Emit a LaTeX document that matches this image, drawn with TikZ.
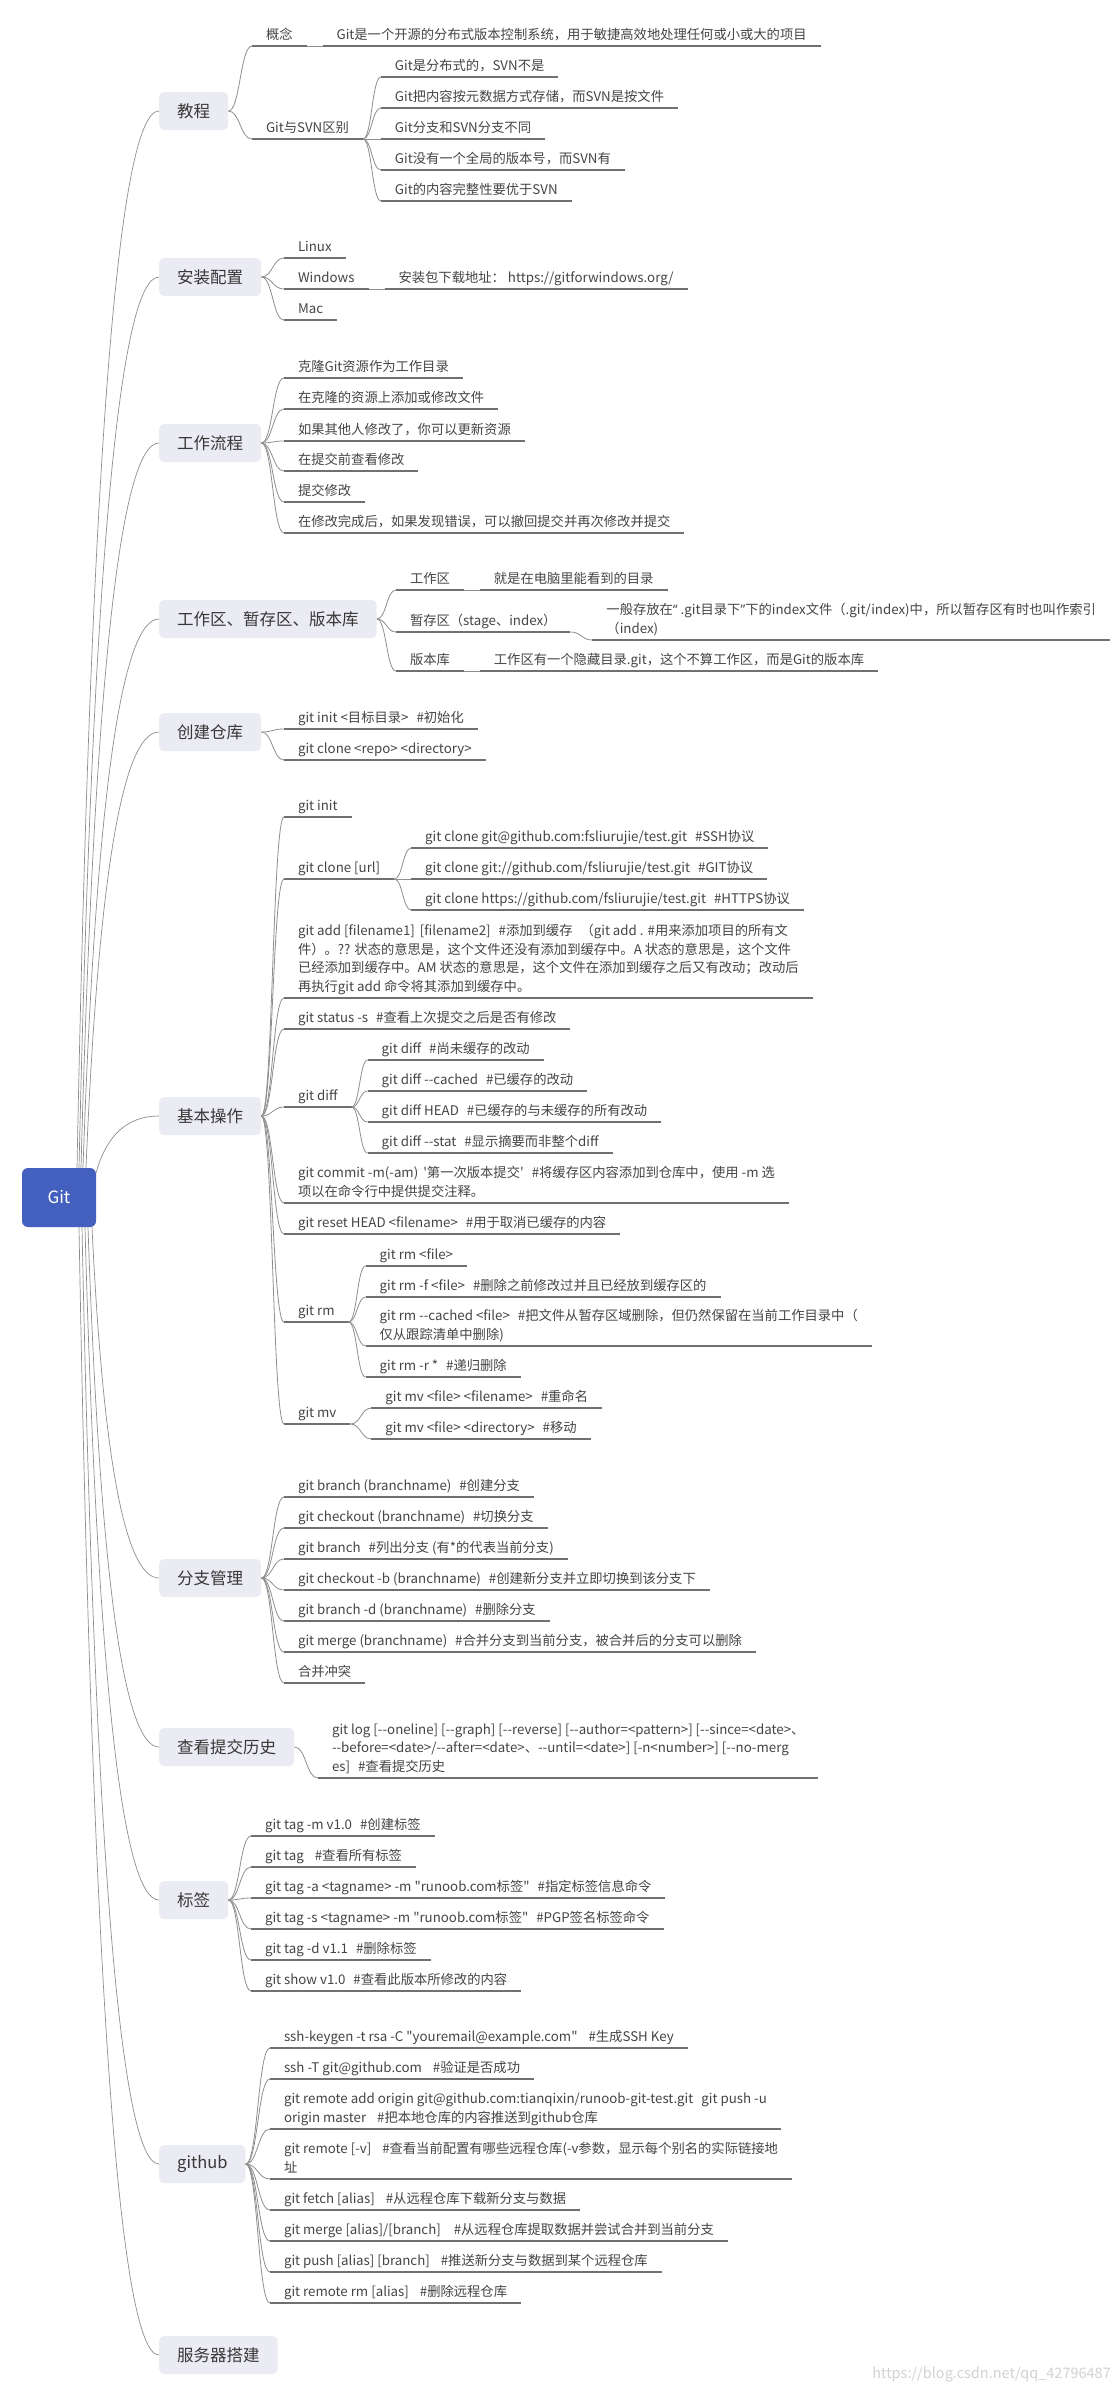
\documentclass[tikz,border=0pt]{standalone}
\usepackage{fontspec}
\newfontfamily\mf{Noto Sans CJK SC}
\newfontfamily\lat{Noto Sans}
\usetikzlibrary{calc}
\definecolor{txt}{HTML}{454545}
\definecolor{uln}{HTML}{707070}
\definecolor{cln}{HTML}{8E8E8E}
\definecolor{bfill}{HTML}{EBEBF3}
\definecolor{rootblue}{HTML}{4460BE}
\definecolor{wmark}{HTML}{D2D2D2}
\newcommand\gp{\hspace{8pt}}
\newcommand\mmlink[2]{\path ($(#1)!0.5!(#2)$) coordinate (lkm); \draw[conn] (#1) .. controls (lkm |- #1) and (lkm |- #2) .. (#2);}
\newcommand\mmroot[2]{\path ($(#1)!0.25!(#2)$) coordinate (rq); \path (rq |- #2) coordinate (rc); \draw[rconn] (#1) .. controls ($(#1)!0.6667!(rc)$) and ($(#2)!0.6667!(rc)$) .. (#2);}
\tikzset{
 uline/.style={draw=uln, line width=1.1pt},
 conn/.style={draw=cln, line width=0.8pt},
 rconn/.style={draw=cln, line width=0.7pt},
 item/.style={anchor=south west, inner xsep=14pt, inner ysep=4pt, outer sep=0pt, text depth=3pt, align=left,
   font=\mf\fontsize{13.3pt}{18.5pt}\selectfont, text=txt,
   append after command={(\tikzlastnode.south west) edge[uline] (\tikzlastnode.south east)}},
 branch/.style={anchor=west, fill=bfill, rounded corners=5pt, inner xsep=18pt, minimum height=38pt,
   font=\mf\fontsize{16.5pt}{20pt}\selectfont, text=txt!80!black},
 rootbox/.style={fill=rootblue, rounded corners=6pt, minimum width=74pt, minimum height=59pt, text=white,
   font=\mf\fontsize{17pt}{21pt}\selectfont}
}
\begin{document}
\begin{tikzpicture}[x=1pt,y=-1pt]
\useasboundingbox (0,0) rectangle (1114,2394);
\fill[white] (0,0) rectangle (1114,2394);

% root
\node[rootbox] (git) at (59,1197.5) {Git};
\coordinate (r1) at (77,1168);
\coordinate (r2) at (79,1168);
\coordinate (r3) at (81,1168);
\coordinate (r4) at (83,1168);
\coordinate (r5) at (86,1168);
\coordinate (r6) at (96,1173);
\coordinate (r7) at (92,1227);
\coordinate (r8) at (88,1227);
\coordinate (r9) at (85,1227);
\coordinate (r10) at (82,1227);
\coordinate (r11) at (79,1227);

% branches
\node[branch] (b1) at (159,111) {教程};
\node[branch] (b2) at (159,277) {安装配置};
\node[branch] (b3) at (159,443) {工作流程};
\node[branch] (b4) at (159,619) {工作区、暂存区、版本库};
\node[branch] (b5) at (159,732) {创建仓库};
\node[branch] (b6) at (159,1116) {基本操作};
\node[branch] (b7) at (159,1578) {分支管理};
\node[branch] (b8) at (159,1747) {查看提交历史};
\node[branch] (b9) at (159,1900) {标签};
\node[branch] (b10) at (159,2164) {github};
\node[branch] (b11) at (159,2355) {服务器搭建};

\mmroot{r1}{b1.west}
\mmroot{r2}{b2.west}
\mmroot{r3}{b3.west}
\mmroot{r4}{b4.west}
\mmroot{r5}{b5.west}
\mmroot{r6}{b6.west}
\mmroot{r7}{b7.west}
\mmroot{r8}{b8.west}
\mmroot{r9}{b9.west}
\mmroot{r10}{b10.west}
\mmroot{r11}{b11.west}

% 教程
\node[item] (a1) at (252,46) {概念};
\node[item,xshift=16pt] (a1c) at (a1.south east) {Git是一个开源的分布式版本控制系统，用于敏捷高效地处理任何或小或大的项目};
\node[item] (a2) at (252,139) {Git与SVN区别};
\node[item,xshift=18pt] (a21) at (a2.south east |- 0,77) {Git是分布式的，SVN不是};
\node[item,xshift=18pt] (a22) at (a2.south east |- 0,108) {Git把内容按元数据方式存储，而SVN是按文件};
\node[item,xshift=18pt] (a23) at (a2.south east |- 0,139) {Git分支和SVN分支不同};
\node[item,xshift=18pt] (a24) at (a2.south east |- 0,170) {Git没有一个全局的版本号，而SVN有};
\node[item,xshift=18pt] (a25) at (a2.south east |- 0,201) {Git的内容完整性要优于SVN};
\mmlink{b1.east}{a1.south west}
\mmlink{b1.east}{a2.south west}
\mmlink{a1.south east}{a1c.south west}
\foreach \n in {a21,a22,a23,a24,a25} {\mmlink{a2.south east}{\n.south west}}

% 安装配置
\node[item] (d1) at (284,258) {Linux};
\node[item] (d2) at (284,289) {Windows};
\node[item,xshift=16pt] (d2c) at (d2.south east) {安装包下载地址： https://gitforwindows.org/};
\node[item] (d3) at (284,320) {Mac};
\foreach \n in {d1,d2,d3} {\mmlink{b2.east}{\n.south west}}
\mmlink{d2.south east}{d2c.south west}

% 工作流程
\node[item] (e1) at (284,378) {克隆Git资源作为工作目录};
\node[item] (e2) at (284,409) {在克隆的资源上添加或修改文件};
\node[item] (e3) at (284,441) {如果其他人修改了，你可以更新资源};
\node[item] (e4) at (284,471) {在提交前查看修改};
\node[item] (e5) at (284,502) {提交修改};
\node[item] (e6) at (284,533) {在修改完成后，如果发现错误，可以撤回提交并再次修改并提交};
\foreach \n in {e1,e2,e3,e4,e5,e6} {\mmlink{b3.east}{\n.south west}}

% 工作区、暂存区、版本库
\node[item] (f1) at (396,590) {工作区};
\node[item,xshift=16pt] (f1c) at (f1.south east) {就是在电脑里能看到的目录};
\node[item] (f2) at (396,632) {暂存区（stage、index）};
\node[item,xshift=22pt] (f2c) at (f2.south east |- 0,640) {一般存放在{\lat“} .git目录下{\lat ”}下的index文件（.git/index)中，所以暂存区有时也叫作索引\\（index)};
\node[item] (f3) at (396,671) {版本库};
\node[item,xshift=16pt] (f3c) at (f3.south east) {工作区有一个隐藏目录.git，这个不算工作区，而是Git的版本库};
\foreach \n in {f1,f2,f3} {\mmlink{b4.east}{\n.south west}}
\mmlink{f1.south east}{f1c.south west}
\mmlink{f2.south east}{f2c.south west}
\mmlink{f3.south east}{f3c.south west}

% 创建仓库
\node[item] (g1) at (284,729) {git init <目标目录>\gp\#初始化};
\node[item] (g2) at (284,760) {git clone <repo> <directory>};
\foreach \n in {g1,g2} {\mmlink{b5.east}{\n.south west}}

% 基本操作
\node[item] (h1) at (284,817) {git init};
\node[item] (h2) at (284,879) {git clone [url]};
\node[item,xshift=17pt] (h21) at (h2.south east |- 0,848) {git clone git@github.com:fsliurujie/test.git\gp\#SSH协议};
\node[item,xshift=17pt] (h22) at (h2.south east |- 0,879) {git clone git://github.com/fsliurujie/test.git\gp\#GIT协议};
\node[item,xshift=17pt] (h23) at (h2.south east |- 0,910) {git clone https://github.com/fsliurujie/test.git\gp\#HTTPS协议};
\node[item] (h3) at (284,998) {git add [filename1]\hspace{5pt}[filename2]\gp\#添加到缓存\gp（git add . \#用来添加项目的所有文\\件）。?? 状态的意思是，这个文件还没有添加到缓存中。A 状态的意思是，这个文件\\已经添加到缓存中。AM 状态的意思是，这个文件在添加到缓存之后又有改动；改动后\\再执行git add 命令将其添加到缓存中。};
\node[item] (h4) at (284,1029) {git status -s\gp\#查看上次提交之后是否有修改};
\node[item] (h5) at (284,1107) {git diff};
\node[item,xshift=16pt] (h51) at (h5.south east |- 0,1060) {git diff\gp\#尚未缓存的改动};
\node[item,xshift=16pt] (h52) at (h5.south east |- 0,1091) {git diff --cached\gp\#已缓存的改动};
\node[item,xshift=16pt] (h53) at (h5.south east |- 0,1122) {git diff HEAD\gp\#已缓存的与未缓存的所有改动};
\node[item,xshift=16pt] (h54) at (h5.south east |- 0,1153) {git diff --stat\gp\#显示摘要而非整个diff};
\node[item] (h6) at (284,1203) {git commit -m(-am)\hspace{5pt}'第一次版本提交'\gp\#将缓存区内容添加到仓库中，使用 -m 选\\项以在命令行中提供提交注释。};
\node[item] (h7) at (284,1234) {git reset HEAD <filename>\gp\#用于取消已缓存的内容};
\node[item] (h8) at (284,1322) {git rm};
\node[item,xshift=17pt] (h81) at (h8.south east |- 0,1266) {git rm <file>};
\node[item,xshift=17pt] (h82) at (h8.south east |- 0,1297) {git rm -f <file>\gp\#删除之前修改过并且已经放到缓存区的};
\node[item,xshift=17pt] (h83) at (h8.south east |- 0,1346) {git rm --cached <file>\gp\#把文件从暂存区域删除，但仍然保留在当前工作目录中（\\仅从跟踪清单中删除)};
\node[item,xshift=17pt] (h84) at (h8.south east |- 0,1377) {git rm -r *\gp\#递归删除};
\node[item] (h9) at (284,1424) {git mv};
\node[item,xshift=21pt] (h91) at (h9.south east |- 0,1408) {git mv <file> <filename>\gp\#重命名};
\node[item,xshift=21pt] (h92) at (h9.south east |- 0,1439) {git mv <file> <directory>\gp\#移动};
\foreach \n in {h1,h2,h3,h4,h5,h6,h7,h8,h9} {\mmlink{b6.east}{\n.south west}}
\foreach \n in {h21,h22,h23} {\mmlink{h2.south east}{\n.south west}}
\foreach \n in {h51,h52,h53,h54} {\mmlink{h5.south east}{\n.south west}}
\foreach \n in {h81,h82,h83,h84} {\mmlink{h8.south east}{\n.south west}}
\foreach \n in {h91,h92} {\mmlink{h9.south east}{\n.south west}}

% 分支管理
\node[item] (i1) at (284,1497) {git branch (branchname)\gp\#创建分支};
\node[item] (i2) at (284,1528) {git checkout (branchname)\gp\#切换分支};
\node[item] (i3) at (284,1559) {git branch\gp\#列出分支 (有*的代表当前分支)};
\node[item] (i4) at (284,1590) {git checkout -b (branchname)\gp\#创建新分支并立即切换到该分支下};
\node[item] (i5) at (284,1621) {git branch -d (branchname)\gp\#删除分支};
\node[item] (i6) at (284,1652) {git merge (branchname)\gp\#合并分支到当前分支，被合并后的分支可以删除};
\node[item] (i7) at (284,1683) {合并冲突};
\foreach \n in {i1,i2,i3,i4,i5,i6,i7} {\mmlink{b7.east}{\n.south west}}

% 查看提交历史
\node[item] (j1) at (318,1778) {git log [--oneline] [--graph] [--reverse] [--author=<pattern>] [--since=<date>、\\--before=<date>/--after=<date>、--until=<date>] [-n<number>] [--no-merg\\es]\gp\#查看提交历史};
\mmlink{b8.east}{j1.south west}

% 标签
\node[item] (k1) at (251,1836) {git tag -m v1.0\gp\#创建标签};
\node[item] (k2) at (251,1867) {git tag\hspace{11pt}\#查看所有标签};
\node[item] (k3) at (251,1898) {git tag -a <tagname> -m "runoob.com标签"\gp\#指定标签信息命令};
\node[item] (k4) at (251,1929) {git tag -s <tagname> -m "runoob.com标签"\gp\#PGP签名标签命令};
\node[item] (k5) at (251,1960) {git tag -d v1.1\gp\#删除标签};
\node[item] (k6) at (251,1991) {git show v1.0\gp\#查看此版本所修改的内容};
\foreach \n in {k1,k2,k3,k4,k5,k6} {\mmlink{b9.east}{\n.south west}}

% github
\node[item] (l1) at (270,2048) {ssh-keygen -t rsa -C "youremail@example.com"\hspace{11pt}\#生成SSH Key};
\node[item] (l2) at (270,2079) {ssh -T git@github.com\hspace{11pt}\#验证是否成功};
\node[item] (l3) at (270,2129) {git remote add origin git@github.com:tianqixin/runoob-git-test.git\gp git push -u\\origin master\hspace{11pt}\#把本地仓库的内容推送到github仓库};
\node[item] (l4) at (270,2179) {git remote [-v]\hspace{11pt}\#查看当前配置有哪些远程仓库(-v参数，显示每个别名的实际链接地\\址};
\node[item] (l5) at (270,2210) {git fetch [alias]\hspace{11pt}\#从远程仓库下载新分支与数据};
\node[item] (l6) at (270,2241) {git merge [alias]/[branch]\hspace{13pt}\#从远程仓库提取数据并尝试合并到当前分支};
\node[item] (l7) at (270,2272) {git push [alias] [branch]\hspace{11pt}\#推送新分支与数据到某个远程仓库};
\node[item] (l8) at (270,2303) {git remote rm [alias]\hspace{11pt}\#删除远程仓库};
\foreach \n in {l1,l2,l3,l4,l5,l6,l7,l8} {\mmlink{b10.east}{\n.south west}}

% watermark
\node[anchor=east, inner sep=0pt, text=wmark, font=\mf\fontsize{14.5pt}{16pt}\selectfont] (wm) at (1111,2375) {https://blog.csdn.net/qq\_42796487};
\end{tikzpicture}
\end{document}
